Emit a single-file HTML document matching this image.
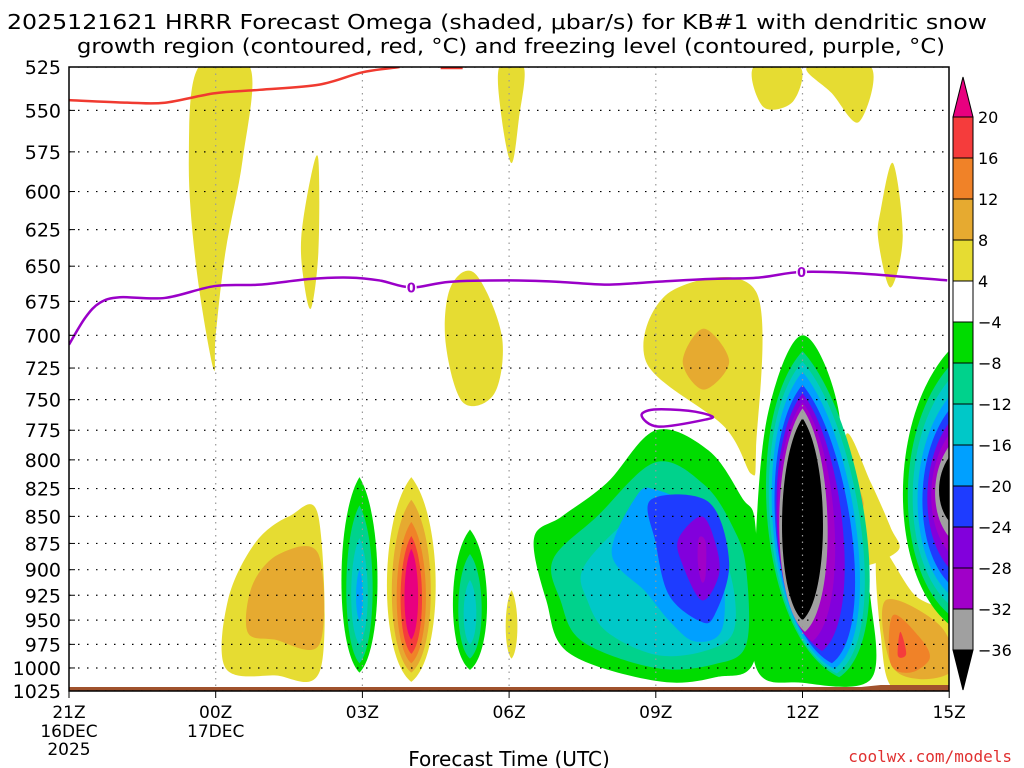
<!DOCTYPE html>
<html><head><meta charset="utf-8"><style>
body{margin:0;background:#fff;}
svg{display:block;font-family:"DejaVu Sans","Liberation Sans",sans-serif;}
</style></head><body>
<svg id="c" width="1024" height="768" viewBox="0 0 1024 768" xmlns="http://www.w3.org/2000/svg">
<rect width="1024" height="768" fill="#fff"/>
<defs><clipPath id="pc"><rect x="69" y="67" width="880" height="624"/></clipPath></defs>
<text x="7" y="29" font-size="20.5" textLength="980" lengthAdjust="spacingAndGlyphs">2025121621 HRRR Forecast Omega (shaded, μbar/s) for KB#1 with dendritic snow</text>
<text x="77" y="53" font-size="20.5" textLength="868" lengthAdjust="spacingAndGlyphs">growth region (contoured, red, °C) and freezing level (contoured, purple, °C)</text>
<g id="plot" clip-path="url(#pc)"></g>
<rect x="69" y="67" width="880" height="624" fill="none" stroke="#000" stroke-width="1.5"/>
<g id="axes"></g>
<g id="cbar"></g>
<text x="509" y="766" font-size="20" text-anchor="middle">Forecast Time (UTC)</text>
<text x="1012" y="762" font-size="16" fill="#e03030" text-anchor="end" font-family="DejaVu Sans Mono, monospace">coolwx.com/models</text>
</svg>
<script>
const NS='http://www.w3.org/2000/svg';
// ---- data ----
const pressureTicks=[525,550,575,600,625,650,675,700,725,750,775,800,825,850,875,900,925,950,975,1000,1025];
const timeTickHours=[0,3,6,9,12,15,18];
const timeTickLabels=['21Z','00Z','03Z','06Z','09Z','12Z','15Z'];
const timeTickDates=[['16DEC','2025'],['17DEC'],[],[],[],[],[]];
const levelColors={pk:'#e8007f',r:'#f53c3c',o:'#f08228',lo:'#e6aa30',y:'#e6dc32',g:'#00dc00',tl:'#00d28c',c:'#00c8c8',lb:'#00a0ff',b:'#1e3cff',pu:'#8200dc',m:'#a000c8',gr:'#a0a0a0',k:'#000000'};
const cbarLabels=['20','16','12','8','4','−4','−8','−12','−16','−20','−24','−28','−32','−36'];
const cbarLevels=['r','o','lo','y','w','g','tl','c','lb','b','pu','m','gr'];
// polygons: [level, [[hour,pressure],...]]
const omegaPolygons=[
 ['y',[[2.65,525],[3.7,525],[3.55,580],[3.2,640],[3.0,700],[2.95,725],[2.6,650],[2.45,580]]],
 ['y',[[4.75,630],[4.95,590],[5.1,580],[5.1,640],[4.95,680],[4.8,660]]],
 ['y',[[8.8,525],[9.3,525],[9.2,555],[9.05,582],[8.85,555]]],
 ['y',[[7.8,665],[8.3,655],[8.85,700],[8.7,745],[8.05,752],[7.7,705]]],
 ['y',[[12.3,668],[14.05,668],[14.05,790],[13.95,812],[13.4,772],[11.8,720]]],
 ['lo',[[12.98,695],[13.5,720],[12.98,742],[12.55,720]]],
 ['y',[[14.0,525],[14.95,525],[14.8,545],[14.2,548]]],
 ['y',[[15.1,525],[16.4,525],[16.15,557],[15.6,540]]],
 ['y',[[16.6,612],[16.85,582],[17.05,630],[16.8,665],[16.55,632]]],
 ['y',[[3.2,1000],[3.25,930],[3.8,875],[4.5,850],[5.1,850],[5.15,1000],[4.2,1008]]],
 ['lo',[[3.65,962],[3.75,915],[4.3,885],[5.1,885],[5.12,975],[4.2,970]]],
 ['y',[[15.9,778],[16.4,820],[16.8,860],[16.95,882],[16.1,895],[15.88,850]]],
 ['lo',[[15.92,810],[16.25,838],[16.0,862],[15.9,855]]],
 ['y',[[16.55,878],[17.3,925],[18.1,950],[18.1,1025],[16.9,1025],[16.6,965]]],
 ['lo',[[16.7,930],[17.8,955],[18.1,1000],[17.4,1012],[16.8,995]]],
 ['o',[[16.85,945],[17.4,968],[17.6,990],[17.2,1005],[16.8,995]]],
 ['r',[[17.0,962],[17.12,985],[16.95,987]]],
 ['g',[[9.51,870],[10.08,850],[11.0,820],[12.0,775],[13.08,792],[13.76,833],[14.04,860],[14.04,988],[13.22,1010],[12.0,1014],[10.22,984],[9.76,930]]],
 ['tl',[[9.9,890],[10.8,850],[12.0,802],[13.0,822],[13.6,862],[13.85,900],[13.85,975],[13.2,996],[12.0,1000],[10.5,972],[10.05,930]]],
 ['c',[[10.5,900],[11.2,862],[12.0,835],[12.9,850],[13.5,900],[13.6,960],[13.0,982],[12.0,986],[11.0,962],[10.6,930]]],
 ['lb',[[11.1,885],[11.6,832],[12.0,826],[12.9,848],[13.35,900],[13.35,960],[12.8,972],[12.3,952],[11.8,922]]],
 ['b',[[11.9,835],[13.08,837],[13.5,893],[13.2,945],[12.9,951],[12.27,925],[12.0,875]]],
 ['pu',[[12.47,870],[12.94,850],[13.22,875],[13.29,905],[12.94,930],[12.53,893]]],
 ['m',[[12.88,870],[13.02,874],[13.02,905],[12.94,912],[12.86,893]]],
 ['g',[[15.0,700],[15.73,757],[15.84,875],[16.2,900],[16.4,932],[16.4,1012],[15.0,1016],[14.04,998],[14.04,875],[14.3,760]]]
];
// lenses: [level, centerHour, topP, bottomP, halfWidthHours, bottomSkewHours]
const omegaLenses=[
 ['y',7.0,815,1015,0.5,0],['lo',7.0,835,1005,0.4,0],['o',7.0,855,995,0.3,0],['r',7.0,868,985,0.22,0],['pk',7.0,880,970,0.14,0],
 ['g',5.94,815,1005,0.37,0],['tl',5.94,840,995,0.27,0],['c',5.94,870,975,0.17,0],['lb',5.94,900,950,0.07,0],
 ['g',8.2,862,1002,0.35,0],['tl',8.2,885,990,0.24,0],['c',8.2,910,975,0.13,0],
 ['y',9.05,920,990,0.12,0],
 ['tl',15.0,712,1010,0.92,0.75],['c',15.0,720,1006,0.85,0.7],['lb',15.0,728,1001,0.78,0.65],['b',15.0,738,995,0.71,0.6],
 ['pu',15.0,745,982,0.63,0.4],['m',15.0,752,972,0.56,0.2],['gr',15.0,757,962,0.49,0.05],['k',15.0,765,950,0.42,0],
 ['g',18.35,700,965,1.3,0],['tl',18.35,712,955,1.2,0],['c',18.35,722,945,1.1,0],['lb',18.35,735,935,1.0,0],['b',18.35,745,925,0.9,0],
 ['pu',18.35,755,910,0.8,0],['m',18.35,765,895,0.72,0],['gr',18.35,775,880,0.64,0],['k',18.35,785,865,0.56,0]
];
const dgzHours=[0,1.24,1.96,2.98,3.9,5.12,6.0,6.76];
const dgzPress=[544,545.5,545.5,540,538,535,528,525];
const frzHours=[0,0.33,0.63,1.04,1.96,2.98,3.9,4.92,5.73,6.35,7.0,7.78,9.0,10.02,11.0,11.98,13.08,14.1,14.98,16.14,17.96];
const frzPress=[707,687,676,672,672.5,664,663,659,658,660,665,661,660,661,663,661,659,658,654,655,660];
const loopHours=[11.71,11.96,12.67,13.12,13.04,12.06];
const loopPress=[763,758,759,763,766,772];
const frzLabelHours=[7.0,14.98];
const frzLabelPress=[665,654];
// ---- scales ----
const X=h=>69+h*48.9;
const Y=p=>67+Math.log(p/525)/Math.log(1025/525)*624;
function el(tag,attrs,parent){const e=document.createElementNS(NS,tag);for(const k in attrs)e.setAttribute(k,attrs[k]);parent.appendChild(e);return e;}
function smoothClosed(pts){let d='';const n=pts.length;for(let i=0;i<n;i++){const p0=pts[(i-1+n)%n],p1=pts[i],p2=pts[(i+1)%n],p3=pts[(i+2)%n];
 if(i===0)d+='M'+p1[0]+','+p1[1];
 const c1=[p1[0]+(p2[0]-p0[0])/6,p1[1]+(p2[1]-p0[1])/6],c2=[p2[0]-(p3[0]-p1[0])/6,p2[1]-(p3[1]-p1[1])/6];
 d+='C'+c1+' '+c2+' '+p2;}return d+'Z';}
function smoothOpen(pts){let d='M'+pts[0];for(let i=0;i<pts.length-1;i++){const p0=pts[Math.max(i-1,0)],p1=pts[i],p2=pts[i+1],p3=pts[Math.min(i+2,pts.length-1)];
 const c1=[p1[0]+(p2[0]-p0[0])/6,p1[1]+(p2[1]-p0[1])/6],c2=[p2[0]-(p3[0]-p1[0])/6,p2[1]-(p3[1]-p1[1])/6];d+='C'+c1+' '+c2+' '+p2;}return d;}
const plot=document.getElementById('plot'),axes=document.getElementById('axes'),cb=document.getElementById('cbar');
const shapes=[];
omegaPolygons.forEach((s,i)=>shapes.push({t:'poly',s,i}));
omegaLenses.forEach((s,i)=>shapes.push({t:'lens',s,i}));
shapes.forEach(o=>{
 let d;
 if(o.t==='poly'){d=smoothClosed(o.s[1].map(q=>[X(q[0]),Y(q[1])]));}
 else{const [lv,hc,pt,pb,hw,sk]=o.s;const tx=X(hc),ty=Y(pt),bx=X(hc+sk),by=Y(pb),H=by-ty;
  const xr=X(hc+hw*1.33),xl=X(hc-hw*1.33),xrs=X(hc+hw*1.33+sk);
  d=`M${tx},${ty}C${xr},${ty+0.2*H} ${xrs},${by-0.12*H} ${bx},${by}C${X(hc-hw*1.33+sk*0.4)},${by-0.12*H} ${xl},${ty+0.2*H} ${tx},${ty}Z`;}
 const p=el('path',{d,fill:levelColors[o.s[0]]},plot);
 
 
});
const g1=el('rect',{x:69,y:Y(1025)-4,width:880,height:6,fill:'#a0522d'},plot);


const g2=el('path',{d:`M${X(16.0)},${Y(1025)-3}L${X(16.6)},${Y(1025)-6}L${X(18)},${Y(1025)-6}L${X(18)},${Y(1025)}Z`,fill:'#a0522d'},plot);


pressureTicks.forEach(p=>{const l=el('line',{x1:69,x2:949,y1:Y(p),y2:Y(p),stroke:'#000','stroke-width':1.2,'stroke-dasharray':'1.5 7.5'},plot);
 
 });
timeTickHours.slice(1,6).forEach(h=>{const l=el('line',{x1:X(h),x2:X(h),y1:67,y2:691,stroke:'#999','stroke-width':1.2,'stroke-dasharray':'1.5 5'},plot);
 
 });
const red=el('path',{d:smoothOpen(dgzHours.map((h,i)=>[X(h),Y(dgzPress[i])])),fill:'none',stroke:'#f03a30','stroke-width':2.5},plot);


const red2=el('path',{d:`M${X(7.6)},${Y(525)+1}L${X(8.05)},${Y(525)+1}`,stroke:'#f03a30','stroke-width':2.5},plot);


const frz=el('path',{d:smoothOpen(frzHours.map((h,i)=>[X(h),Y(frzPress[i])])),fill:'none',stroke:'#9a00c8','stroke-width':2.5},plot);


const loop=el('path',{d:smoothClosed(loopHours.map((h,i)=>[X(h),Y(loopPress[i])])),fill:'none',stroke:'#9a00c8','stroke-width':2.5},plot);


frzLabelHours.forEach((h,i)=>{const t=el('text',{x:X(h),y:Y(frzLabelPress[i])+5,'font-size':13,'font-weight':'bold',fill:'#9a00c8','text-anchor':'middle',stroke:'#fff','stroke-width':3,'paint-order':'stroke'},plot);t.textContent='0';
 
 });
pressureTicks.forEach(p=>{const t=el('text',{x:61,y:Y(p)+7,'font-size':19,'text-anchor':'end'},axes);t.textContent=p;
 
 
 const tk=el('line',{x1:69,x2:75,y1:Y(p),y2:Y(p),stroke:'#000'},axes);
 
 });
timeTickHours.forEach((h,i)=>{const t=el('text',{x:X(h),y:718,'font-size':17,'text-anchor':'middle'},axes);t.textContent=timeTickLabels[i];
 
 
 timeTickDates[i].forEach((s,j)=>{const d=el('text',{x:X(h),y:737+j*18,'font-size':17,'text-anchor':'middle'},axes);d.textContent=s;
  
  });
 const tk=el('line',{x1:X(h),x2:X(h),y1:691,y2:698,stroke:'#000'},axes);
 
 });
const cx=953,cw=20,top0=117,step=41;
const tri=el('path',{d:`M${cx},${top0}L${cx+cw/2},${top0-40}L${cx+cw},${top0}Z`,fill:levelColors.pk,stroke:'#000'},cb);


cbarLevels.forEach((lv,i)=>{const r=el('rect',{x:cx,y:top0+i*step,width:cw,height:step,fill:lv==='w'?'#fff':levelColors[lv],stroke:'#000'},cb);
 
 });
const bot=top0+cbarLevels.length*step;
const tri2=el('path',{d:`M${cx},${bot}L${cx+cw/2},${bot+40}L${cx+cw},${bot}Z`,fill:'#000',stroke:'#000'},cb);


cbarLabels.forEach((s,i)=>{const t=el('text',{x:978,y:top0+i*step+6,'font-size':16},cb);t.textContent=s;
 
 });
</script>
</body></html>
